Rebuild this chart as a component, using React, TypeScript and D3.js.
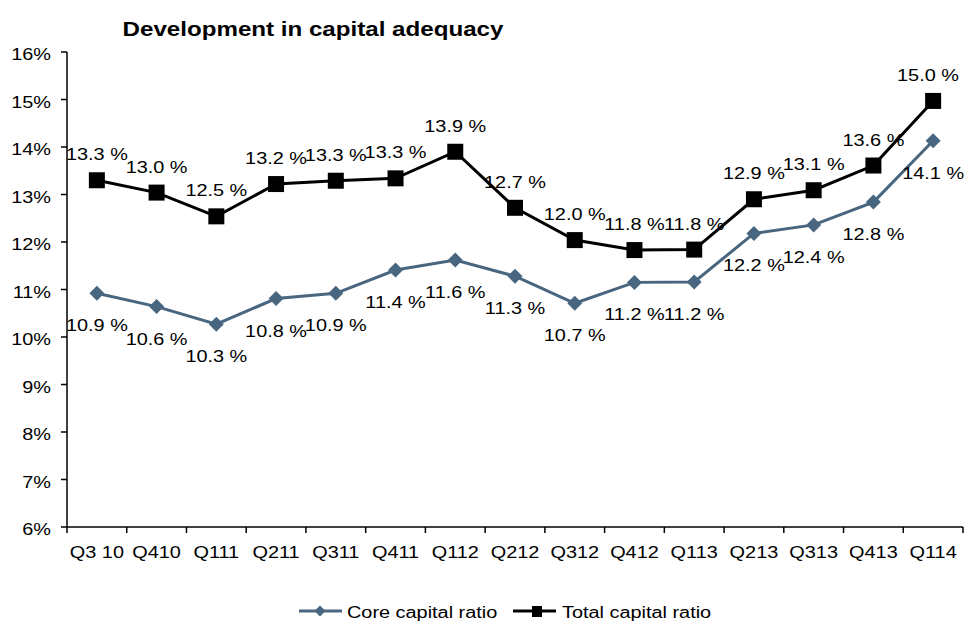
import * as d3 from 'd3'

const categories = ['Q3 10', 'Q410', 'Q111', 'Q211', 'Q311', 'Q411', 'Q112', 'Q212', 'Q312', 'Q412', 'Q113', 'Q213', 'Q313', 'Q413', 'Q114']
const coreRatio = [10.92, 10.64, 10.27, 10.81, 10.92, 11.41, 11.62, 11.28, 10.71, 11.15, 11.16, 12.18, 12.36, 12.84, 14.13]
const totalRatio = [13.3, 13.04, 12.54, 13.22, 13.29, 13.34, 13.9, 12.72, 12.04, 11.83, 11.84, 12.9, 13.09, 13.61, 14.97]
const yTicks = [6, 7, 8, 9, 10, 11, 12, 13, 14, 15, 16]

const W = 965
const H = 622
const SX = 1.15 // source picture is stretched a little horizontally
const FONT = '"Liberation Sans", Arial, sans-serif'
const CORE = '#48667f'

function T({ x, y, anchor = 'middle', size = 17.3, weight = 'normal', children }: any) {
  return (
    <text
      transform={`translate(${x},${y}) scale(${SX},1)`}
      textAnchor={anchor}
      fontSize={size}
      fontWeight={weight}
      fontFamily={FONT}
      fill="#000"
    >
      {children}
    </text>
  )
}

const diamond = (cx: number, cy: number, r: number) =>
  `M${cx},${cy - r}L${cx + r},${cy}L${cx},${cy + r}L${cx - r},${cy}Z`

export default function App() {
  const x = d3.scaleBand().domain(categories).range([67, 963])
  const y = d3.scaleLinear().domain([6, 16]).range([527, 52])
  const cx = (c: string) => (x(c) ?? 0) + x.bandwidth() / 2

  const line = d3.line<number>()
    .x((_, i) => cx(categories[i]))
    .y(d => y(d))

  const fmt = (v: number) => `${v.toFixed(1)} %`
  const boundaries = categories.map(c => x(c) ?? 0).concat([963])

  return (
    <svg width={W} height={H} style={{ position: 'absolute', left: 0, top: 0, background: '#fff' }}>
      <T x={313} y={36} size={21} weight="bold">Development in capital adequacy</T>

      {/* y axis */}
      <line x1={67} x2={67} y1={y(16)} y2={y(6)} stroke="#000" strokeWidth={1.5} />
      {yTicks.map(t => (
        <g key={t}>
          <line x1={61} x2={67} y1={y(t)} y2={y(t)} stroke="#000" strokeWidth={1.5} />
          <T x={51} y={y(t) + 8} anchor="end">{`${t}%`}</T>
        </g>
      ))}

      {/* x axis */}
      <line x1={67} x2={963} y1={y(6)} y2={y(6)} stroke="#000" strokeWidth={1.5} />
      {boundaries.map((b, i) => (
        <line key={i} x1={b} x2={b} y1={y(6)} y2={y(6) + 6} stroke="#000" strokeWidth={1.5} />
      ))}
      {categories.map(c => (
        <T key={c} x={cx(c)} y={558}>{c}</T>
      ))}

      {/* core capital ratio */}
      <path d={line(coreRatio) ?? ''} fill="none" stroke={CORE} strokeWidth={3} />
      {coreRatio.map((v, i) => (
        <path key={i} d={diamond(cx(categories[i]), y(v), 7.5)} fill={CORE} />
      ))}

      {/* total capital ratio */}
      <path d={line(totalRatio) ?? ''} fill="none" stroke="#000" strokeWidth={3} />
      {totalRatio.map((v, i) => (
        <rect key={i} x={cx(categories[i]) - 8} y={y(v) - 8} width={16} height={16} fill="#000" />
      ))}

      {/* labels */}
      {totalRatio.map((v, i) => (
        <T key={'t' + i} x={Math.min(cx(categories[i]), 928)} y={y(v) - 20}>{fmt(v)}</T>
      ))}
      {coreRatio.map((v, i) => (
        <T key={'c' + i} x={cx(categories[i])} y={y(v) + 38}>{fmt(v)}</T>
      ))}

      {/* legend */}
      <line x1={299} x2={342} y1={611} y2={611} stroke={CORE} strokeWidth={3} />
      <path d={diamond(320, 611, 5.5)} fill={CORE} />
      <T x={347} y={618} anchor="start">Core capital ratio</T>
      <line x1={513} x2={556} y1={611} y2={611} stroke="#000" strokeWidth={3} />
      <rect x={532} y={606} width={10} height={11} fill="#000" />
      <T x={562} y={618} anchor="start">Total capital ratio</T>
    </svg>
  )
}
